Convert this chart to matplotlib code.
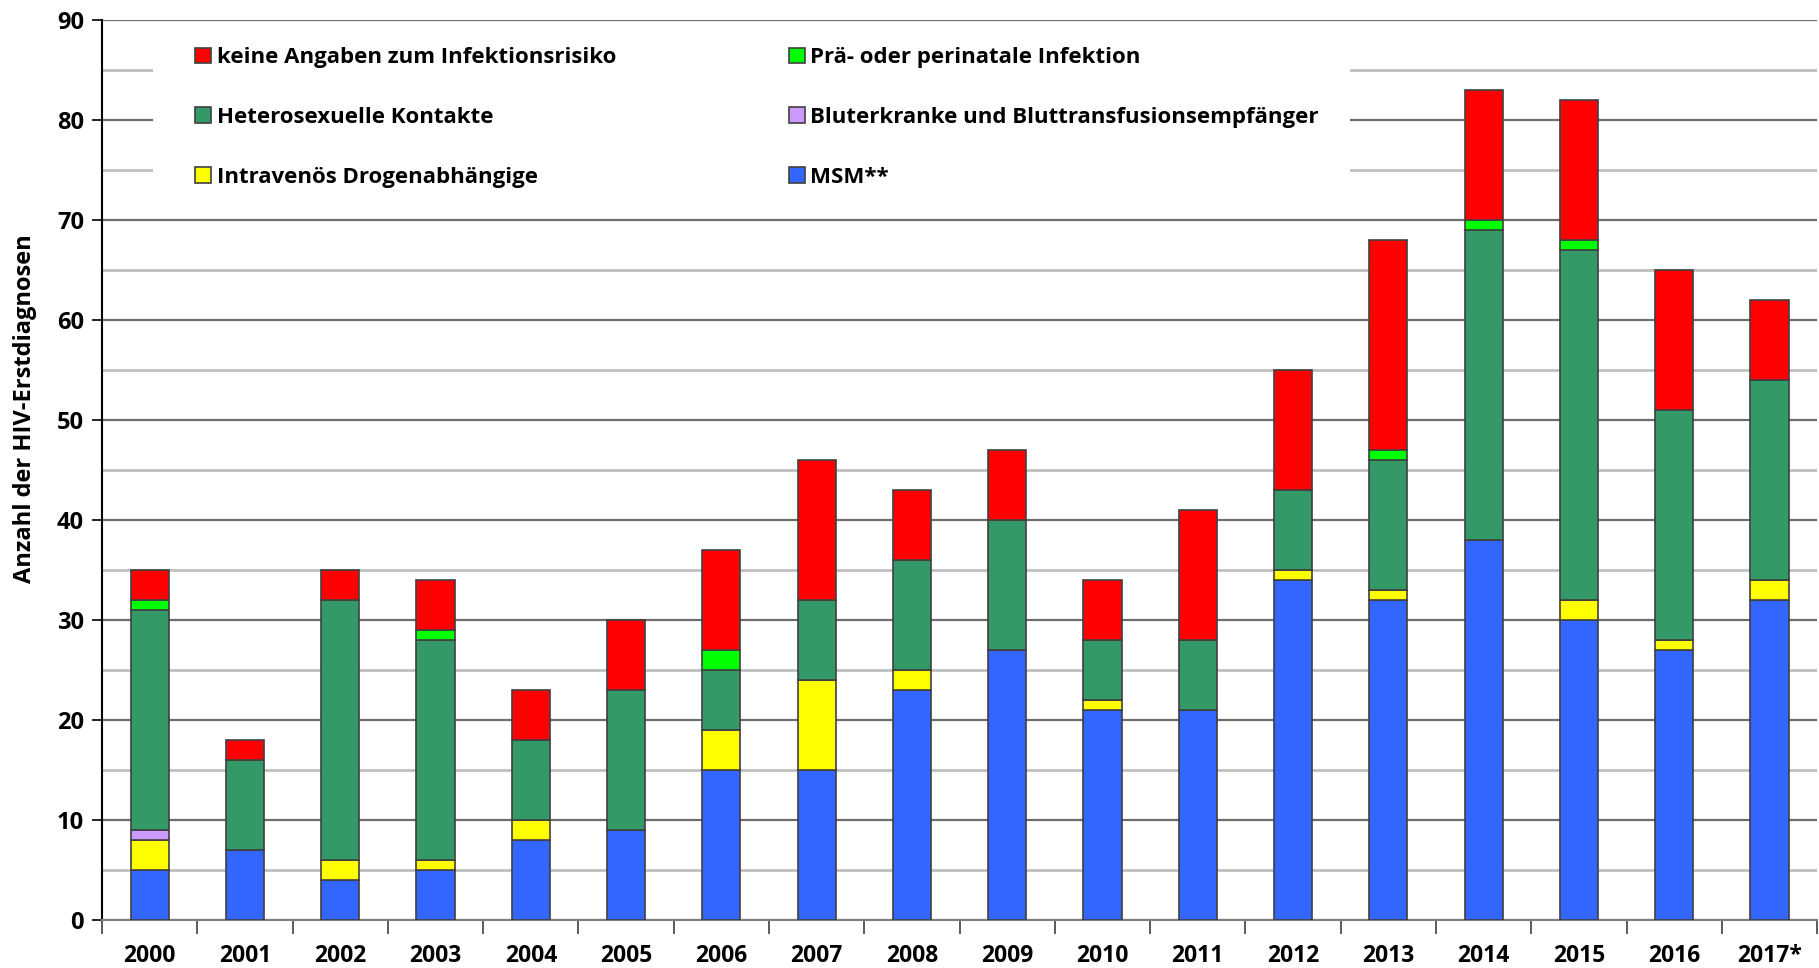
import matplotlib
matplotlib.use("agg")
import matplotlib.pyplot as plt
from matplotlib.patches import Rectangle
import numpy as np

years = ['2000', '2001', '2002', '2003', '2004', '2005', '2006', '2007', '2008',
         '2009', '2010', '2011', '2012', '2013', '2014', '2015', '2016', '2017*']
msm = [5, 7, 4, 5, 8, 9, 15, 15, 23, 27, 21, 21, 34, 32, 38, 30, 27, 32]
drogen = [3, 0, 2, 1, 2, 0, 4, 9, 2, 0, 1, 0, 1, 1, 0, 2, 1, 2]
bluter = [1, 0, 0, 0, 0, 0, 0, 0, 0, 0, 0, 0, 0, 0, 0, 0, 0, 0]
hetero = [22, 9, 26, 22, 8, 14, 6, 8, 11, 13, 6, 7, 8, 13, 31, 35, 23, 20]
perinatal = [1, 0, 0, 1, 0, 0, 2, 0, 0, 0, 0, 0, 0, 1, 1, 1, 0, 0]
keine = [3, 2, 3, 5, 5, 7, 10, 14, 7, 7, 6, 13, 12, 21, 13, 14, 14, 8]

series = [
    ('MSM**', msm, '#3366ff'),
    ('Intravenös Drogenabhängige', drogen, '#ffff00'),
    ('Bluterkranke und Bluttransfusionsempfänger', bluter, '#cc99ff'),
    ('Heterosexuelle Kontakte', hetero, '#339966'),
    ('Prä- oder perinatale Infektion', perinatal, '#00ff00'),
    ('keine Angaben zum Infektionsrisiko', keine, '#ff0000'),
]

plt.rcParams['font.family'] = ['Open Sans', 'DejaVu Sans']
plt.rcParams['font.weight'] = 'bold'

fig = plt.figure(figsize=(18.19, 9.68), dpi=100)
ax = fig.add_axes([0.0561, 0.0496, 0.9429, 0.93])

x = np.arange(len(years))
bottom = np.zeros(len(years))
handles = {}
for label, vals, color in series:
    vals = np.array(vals, dtype=float)
    bars = ax.bar(x, vals, 0.4, bottom=bottom, color=color,
                  edgecolor='#404040', lw=1.2, zorder=3, label=label)
    handles[label] = bars
    bottom += vals

ax.set_xlim(-0.5, len(years) - 0.5)
ax.set_ylim(0, 90)
ax.set_yticks(range(0, 91, 10))
ax.set_yticks(range(5, 90, 10), minor=True)
ax.tick_params(axis='y', which='major', length=7, width=1.2, labelsize=17,
               direction='out', pad=6)
ax.tick_params(axis='y', which='minor', length=0)
ax.set_xticks(x)
ax.set_xticklabels(years, fontsize=16.5, fontweight='bold')
ax.set_xticks(np.arange(-0.5, len(years), 1), minor=True)
ax.tick_params(axis='x', which='major', length=0, pad=17)
ax.tick_params(axis='x', which='minor', length=10, width=1.2, color='#404040')
for lbl in ax.get_yticklabels():
    lbl.set_fontweight('bold')

ax.set_axisbelow(True)
ax.yaxis.grid(True, which='major', color='#6e6e6e', lw=1.6)
ax.yaxis.grid(True, which='minor', color='#c0c0c0', lw=2.0)

for s in ['top', 'right']:
    ax.spines[s].set_visible(False)
ax.spines['left'].set_color('black')
ax.spines['left'].set_linewidth(1.5)
ax.spines['bottom'].set_color('#808080')
ax.spines['bottom'].set_linewidth(1.5)

ax.set_ylabel('Anzahl der HIV-Erstdiagnosen', fontsize=17, fontweight='bold')
ax.yaxis.set_label_coords(-0.038, 0.568)

# white box behind the legend hides the grid lines there
ax.add_patch(Rectangle((0.0297, 0.785), 0.698, 0.19, transform=ax.transAxes,
                       facecolor='white', edgecolor='none', zorder=1))

order = ['keine Angaben zum Infektionsrisiko', 'Heterosexuelle Kontakte',
         'Intravenös Drogenabhängige', 'Prä- oder perinatale Infektion',
         'Bluterkranke und Bluttransfusionsempfänger', 'MSM**']
ax.legend([handles[k] for k in order], order, ncol=2, loc='upper left',
          bbox_to_anchor=(0.048, 0.982), frameon=False,
          prop={'size': 16, 'weight': 'bold'}, handlelength=0.7,
          handleheight=0.7, handletextpad=0.25, labelspacing=1.75,
          columnspacing=7.8, borderpad=0)

fig.savefig('out.png', dpi=100)
